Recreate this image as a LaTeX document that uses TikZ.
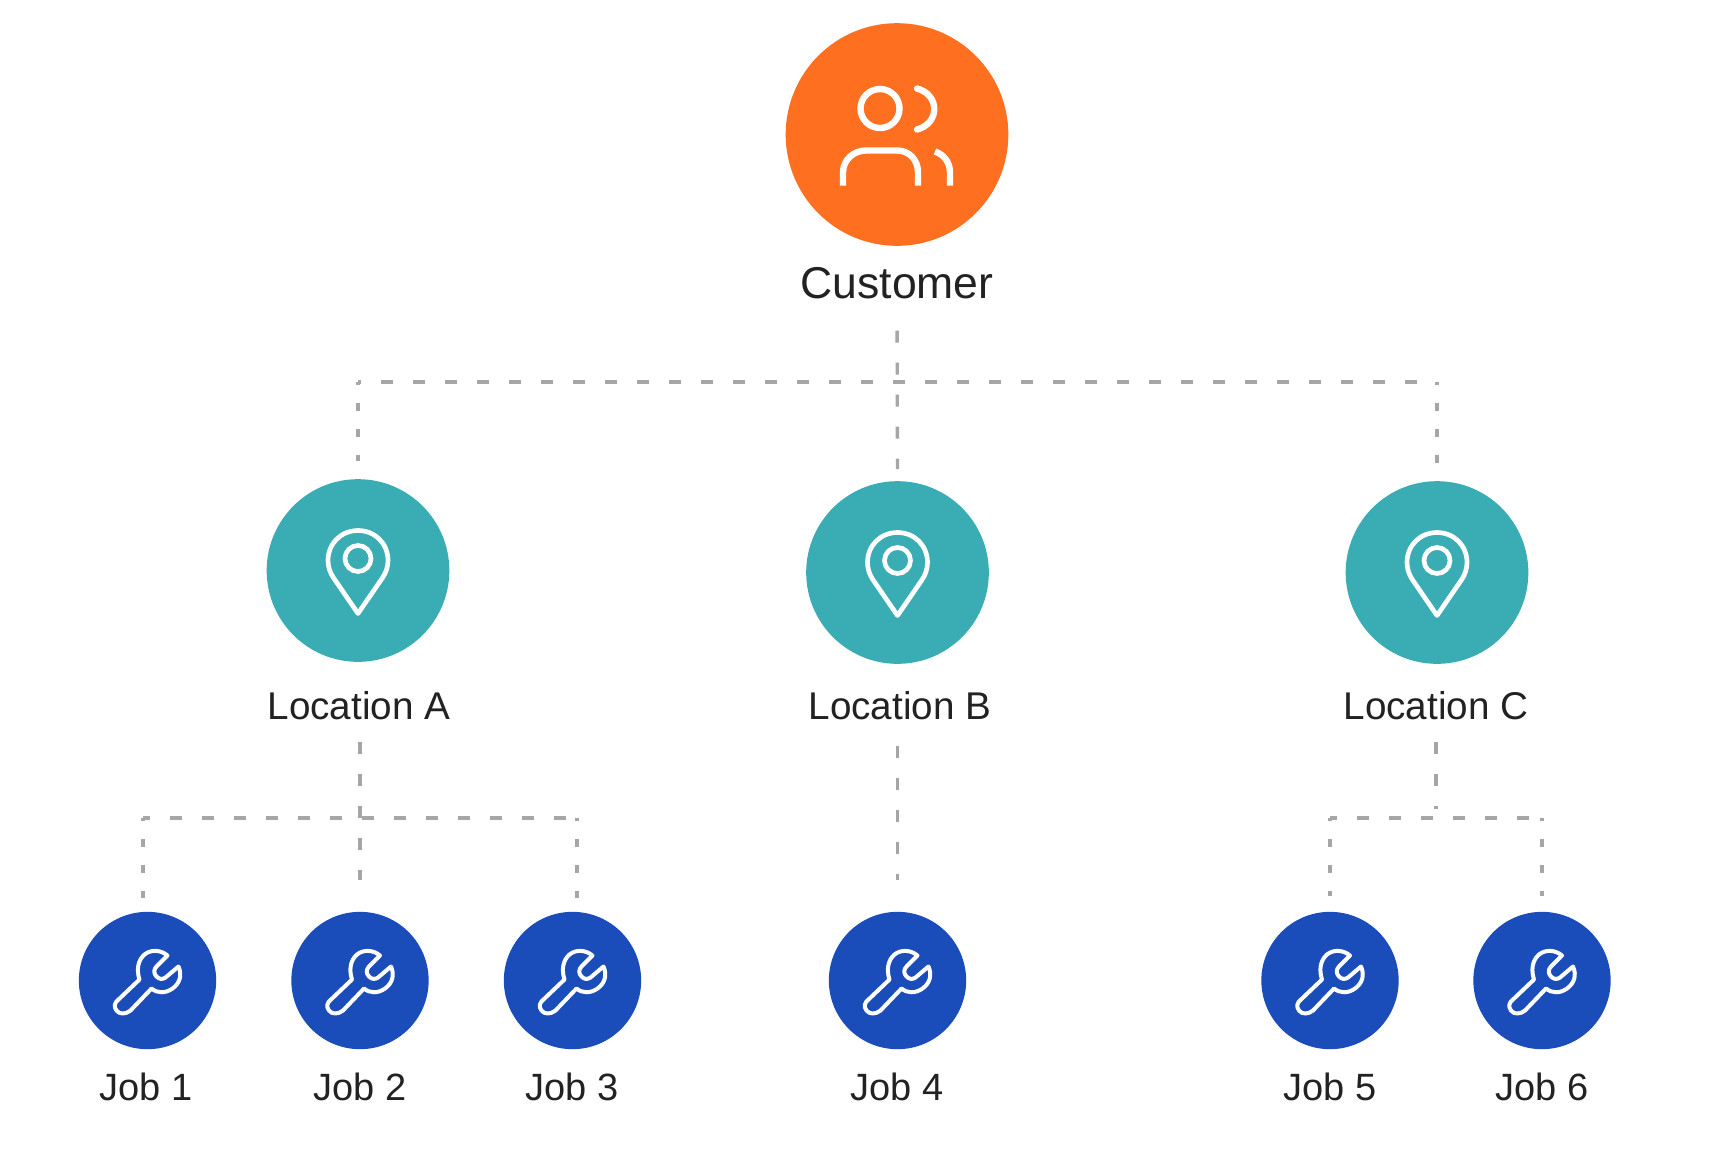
\documentclass[tikz,border=0pt]{standalone}
\usepackage{fontspec}
\setmainfont{Liberation Sans}
\usetikzlibrary{calc}
\definecolor{custorange}{HTML}{FF6F20}
\definecolor{locteal}{HTML}{3AADB4}
\definecolor{jobblue}{HTML}{1A4DBA}
\definecolor{dashgray}{HTML}{A6A6A6}
\definecolor{labelink}{HTML}{222222}
\tikzset{
  disc/.style={circle,inner sep=0pt,outer sep=0pt,draw=none},
  custdisc/.style={disc,fill=custorange,minimum size=167pt},
  locdisc/.style={disc,fill=locteal,minimum size=137pt},
  jobdisc/.style={disc,fill=jobblue,minimum size=103pt},
  lbl/.style={anchor=base,inner sep=0pt,outer sep=0pt,text depth=0pt,text=labelink},
  lblbig/.style={lbl,font=\fontsize{33.4pt}{38pt}\selectfont},
  lblloc/.style={lbl,font=\fontsize{29pt}{34pt}\selectfont},
  lbljob/.style={lbl,font=\fontsize{28.5pt}{34pt}\selectfont},
  conn/.style={draw=dashgray,line width=2.5pt,dash pattern=on 9pt off 15pt},
  busconn/.style={conn,dash phase=4pt},
  dropconn/.style={draw=dashgray,line width=2.5pt,dash pattern=on 6.5pt off 13pt,dash phase=4pt},
  iconline/.style={draw=white,line width=4.8pt,line cap=round,line join=round},
  pinline/.style={draw=white,line width=3.5pt,line cap=round,line join=round},
  wrenchline/.style={draw=white,line width=3pt,line cap=round,line join=round},
  pics/people/.style={code={
    \draw[iconline] (-17,-26) circle[radius=19.5];
    \draw[iconline] (20,-46) .. controls (43,-40) and (43,-11) .. (20,-5);
    \draw[iconline,line cap=butt] (-54,51) -- (-54,38) .. controls (-54,25) and (-43,16) .. (-31,16) -- (0,16) .. controls (12,16) and (21,25) .. (21,38) -- (21,51);
    \draw[iconline,line cap=butt] (53,51) -- (53,38) .. controls (53,28) and (47,20) .. (38,17);
  }},
  pics/pin/.style={code={
    \draw[pinline] (0,43) -- (-24.7,7) .. controls (-28,2.2) and (-30,-4) .. (-30,-10) .. controls (-30,-27) and (-17,-40) .. (0,-40) .. controls (17,-40) and (30,-27) .. (30,-10) .. controls (30,-4) and (28,2.2) .. (24.7,7) -- cycle;
    \draw[pinline] (0,-12) circle[radius=13];
  }},
  pics/wrench/.style={code={
    \draw[wrenchline] (-29,19) -- (-8,-1) .. controls (-11,-10) and (-10,-20) .. (-3,-26) .. controls (3,-31) and (13,-31) .. (20,-25) -- (9,-14) .. controls (6,-11) and (6,-7) .. (9,-4) .. controls (12,-1) and (15,-1) .. (18,-3) -- (31,-14) .. controls (35,-5) and (32,3) .. (25,8) .. controls (18,13) and (10,13) .. (4,8) -- (-17,30) .. controls (-22,34) and (-28,34) .. (-31,30) .. controls (-34,26) and (-33,22) .. (-29,19) -- cycle;
  }},
}
\begin{document}
\begin{tikzpicture}[x=0.75pt,y=-0.75pt]
\useasboundingbox (0,0) rectangle (1716,1158);
\fill[white] (0,0) rectangle (1716,1158);
% discs
\node[custdisc] (cust) at (897,134.5) {};
\node[locdisc] (locA) at (358,570.5) {};
\node[locdisc] (locB) at (897.5,572.5) {};
\node[locdisc] (locC) at (1437,572.5) {};
\node[jobdisc] (job1) at (147.5,980.5) {};
\node[jobdisc] (job2) at (360,980.5) {};
\node[jobdisc] (job3) at (572.5,980.5) {};
\node[jobdisc] (job4) at (897.5,980.5) {};
\node[jobdisc] (job5) at (1330,980.5) {};
\node[jobdisc] (job6) at (1542,980.5) {};
% labels
\node[lblbig] (lblCust) at (897,298) {Customer};
\node[lblloc] (lblA) at (359,719.5) {Location A};
\node[lblloc] (lblB) at (900,719.5) {Location B};
\node[lblloc] (lblC) at (1436,719.5) {Location C};
\node[lbljob] (lblJ1) at (146,1100) {Job 1};
\node[lbljob] (lblJ2) at (360,1100) {Job 2};
\node[lbljob] (lblJ3) at (572,1100) {Job 3};
\node[lbljob] (lblJ4) at (897,1100) {Job 4};
\node[lbljob] (lblJ5) at (1330,1100) {Job 5};
\node[lbljob] (lblJ6) at (1542,1100) {Job 6};
% icons
\pic at (cust) {people};
\pic at (locA) {pin};
\pic at (locB) {pin};
\pic at (locC) {pin};
\foreach \j in {job1,job2,job3,job4,job5,job6} \pic at (\j) {wrench};
% junctions
\coordinate (busL) at (locA.north |- 0,382);
\coordinate (busR) at (locC.north |- 0,382);
\coordinate (aL) at (143,818);
\coordinate (aR) at (577,818);
\coordinate (cL) at (job5.north |- 0,818);
\coordinate (cR) at (job6.north |- 0,818);
\coordinate (cM) at (1436,809);
\coordinate (d1) at (143,898);
\coordinate (d3) at (577,898);
% connectors
\draw[busconn,dash phase=6.75pt] (busL) -- (busR);
\draw[conn,shorten <=24.5pt,shorten >=9pt] (lblCust.south) -- (locB.north);
\draw[dropconn,shorten >=14pt] (busL) -- (locA.north);
\draw[dropconn,shorten >=14pt] (busR) -- (locC.north);
\draw[busconn] (aL) -- (aR);
\draw[dropconn] (aL) -- (d1);
\draw[dropconn] (aR) -- (d3);
\draw[conn,shorten <=17pt,shorten >=24pt] (lblA.south -| job2.north) -- (job2.north);
\draw[conn,shorten <=20pt,shorten >=24pt] (lblB.south -| job4.north) -- (job4.north);
\draw[conn,shorten <=17pt] (lblC.south) -- (cM);
\draw[busconn] (cL) -- (cR);
\draw[dropconn,shorten >=12pt] (cL) -- (job5.north);
\draw[dropconn,shorten >=12pt] (cR) -- (job6.north);
\end{tikzpicture}
\end{document}
